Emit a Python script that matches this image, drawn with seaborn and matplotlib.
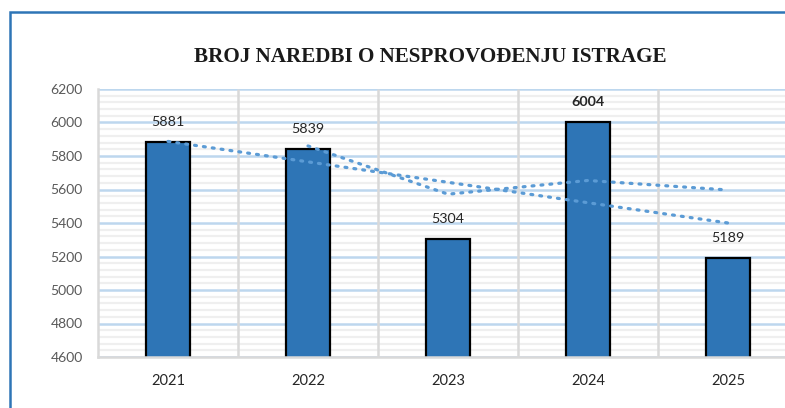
import numpy as np
import matplotlib.pyplot as plt
import seaborn as sns
from matplotlib.ticker import MultipleLocator
from matplotlib.patches import Rectangle

# Data
years = ["2021", "2022", "2023", "2024", "2025"]
counts = [5881, 5839, 5304, 6004, 5189]
# dotted trend lines
linear_trend = [5887, 5765, 5643, 5521, 5400]
moving_avg = [np.nan, 5860, 5572, 5654, 5597]
bold_labels = ["6004"]

sns.set_style("white")
plt.rcParams["font.family"] = ["Lato", "DejaVu Sans"]

fig = plt.figure(figsize=(7.85, 4.08), dpi=100)
ax = fig.add_axes([98 / 785, 51 / 408, 700 / 785, 268 / 408])

# Bars
sns.barplot(x=years, y=counts, color="#2E75B6", width=0.31,
            edgecolor="black", linewidth=1.6, saturation=1, ax=ax)

# Trend lines
pos = np.arange(len(years))
ax.plot(pos, linear_trend, color="#5B9BD5", lw=2.3,
        linestyle=(0, (0.6, 2.2)), dash_capstyle="round", zorder=4)
ax.plot(pos, moving_avg, color="#5B9BD5", lw=2.3,
        linestyle=(0, (0.6, 2.2)), dash_capstyle="round", zorder=4)

# Value labels
for i, v in enumerate(counts):
    ax.annotate(str(v), (i, v), xytext=(0, 14.5), textcoords="offset points",
                ha="center", va="center", fontsize=10.3, color="#262626",
                fontweight="bold" if str(v) in bold_labels else "normal")

# Axes
ax.set_ylim(4600, 6200)
ax.set_xlim(-0.5, len(years) - 0.5)
ax.set_yticks(range(4600, 6201, 200))
ax.yaxis.set_minor_locator(MultipleLocator(40))
ax.set_axisbelow(True)
ax.grid(which="minor", axis="y", color="#EFEFEF", lw=1.6)
ax.grid(which="major", axis="y", color="#BDD7EE", lw=1.8)
ax.grid(axis="x", visible=False)
# vertical separators between categories, drawn over the minor grid
ax.vlines(pos + 0.5, 4600, 6200, color="#D9D9D9", lw=1.8, zorder=0.8)

ax.tick_params(axis="y", which="both", length=0, pad=11, labelsize=10, labelcolor="#595959")
ax.tick_params(axis="x", which="both", length=0, pad=12, labelsize=10.5, labelcolor="#262626")
ax.set_xlabel("")
ax.set_ylabel("")

for s in ["top", "right"]:
    ax.spines[s].set_visible(False)
ax.spines["left"].set_color("#D9D9D9")
ax.spines["left"].set_linewidth(1.8)
ax.spines["bottom"].set_color("#D9D9D9")
ax.spines["bottom"].set_linewidth(1.8)

# Title
fig.text(430 / 785, 1 - 57 / 408, "BROJ NAREDBI O NESPROVOĐENJU ISTRAGE",
         ha="center", va="center", fontsize=15.2, fontweight="bold",
         family=["Liberation Serif", "DejaVu Serif"], color="#1a1a1a")

# Outer chart border (cropped: only left and top visible)
fig.add_artist(Rectangle((10 / 785, -0.1), 1.2, (408 - 12) / 408 + 0.1,
                         transform=fig.transFigure, fill=False,
                         edgecolor="#2E75B6", lw=1.8))

fig.savefig("out.png", dpi=100)
